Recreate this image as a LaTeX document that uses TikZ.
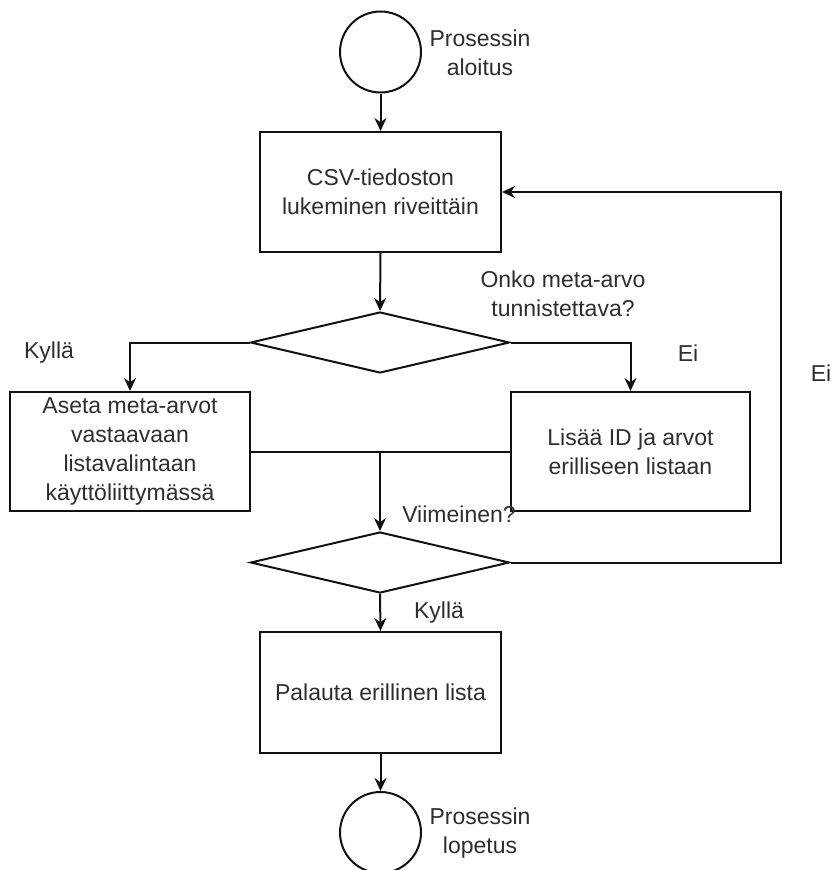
\documentclass[tikz,border=0pt]{standalone}
\usepackage{fontspec}
\setmainfont{Liberation Sans}
\usetikzlibrary{shapes.geometric,arrows.meta}

\definecolor{ink}{HTML}{111111}
\definecolor{txt}{HTML}{2E2E2E}

\tikzset{
  every node/.style={font=\fontsize{23}{29}\selectfont, text=txt},
  stepbox/.style={draw=ink, line width=2pt, rectangle, inner sep=0pt, align=center},
  choice/.style={draw=ink, line width=2pt, diamond, inner sep=0pt, minimum width=259pt, minimum height=61pt},
  terminal/.style={draw=ink, line width=2pt, circle, inner sep=0pt, minimum size=81pt},
  lbl/.style={align=center, inner sep=0pt},
  link/.style={draw=ink, line width=2pt},
  flow/.style={link, -{Stealth[length=13pt,width=12pt]}}
}

\begin{document}
\begin{tikzpicture}[x=1pt,y=-1pt]
  \useasboundingbox (0,0) rectangle (833,870);

  % start and end terminals
  \node[terminal] (start) at (380.5,52) {};
  \node[lbl] (startlbl) at (480,52.5) {Prosessin\\aloitus};

  % reading step
  \node[stepbox, minimum width=241pt, minimum height=120pt] (read) at (380.5,192)
    {CSV-tiedoston\\lukeminen riveittäin};

  % first decision
  \node[choice] (dec1) at (380,342.5) {};
  \node[lbl] (q1) at (563,294) {Onko meta-arvo\\tunnistettava?};

  % the two branches
  \node[stepbox, minimum width=240pt, minimum height=119pt] (setbox) at (130,451.5)
    {Aseta meta-arvot\\vastaavaan\\listavalintaan\\käyttöliittymässä};
  \node[stepbox, minimum width=239pt, minimum height=119pt] (addbox) at (630.5,451.5)
    {Lisää ID ja arvot\\erilliseen listaan};
  \node[lbl] (yes1) at (49,353) {Kyllä};
  \node[lbl] (no1) at (688,353) {Ei};

  % second decision
  \node[choice] (dec2) at (380,562.5) {};
  \node[lbl] (q2) at (459,514) {Viimeinen?};
  \node[lbl] (yes2) at (439,613) {Kyllä};
  \node[lbl] (no2) at (821,373) {Ei};

  % return step and end
  \node[stepbox, minimum width=241pt, minimum height=121pt] (final) at (380.5,692.5)
    {Palauta erillinen lista};
  \node[terminal] (end) at (380.5,832.5) {};
  \node[lbl] (endlbl) at (480,833) {Prosessin\\lopetus};

  \coordinate (merge) at (380,451.5);
  \coordinate (loop) at (781,192);

  % connectors
  \draw[flow] (start.south) -- (read.north);
  \draw[flow] (read.south) -- (dec1.north);
  \draw[flow] (dec1.west) -| (setbox.north);
  \draw[flow] (dec1.east) -| (addbox.north);
  \draw[link] (setbox.east) -- (merge);
  \draw[link] (addbox.west) -- (merge);
  \draw[flow] (merge) -- (dec2.north);
  \draw[flow] (dec2.east) -| (loop) -- (read.east);
  \draw[flow] (dec2.south) -- (final.north);
  \draw[flow] (final.south) -- (end.north);
\end{tikzpicture}
\end{document}
